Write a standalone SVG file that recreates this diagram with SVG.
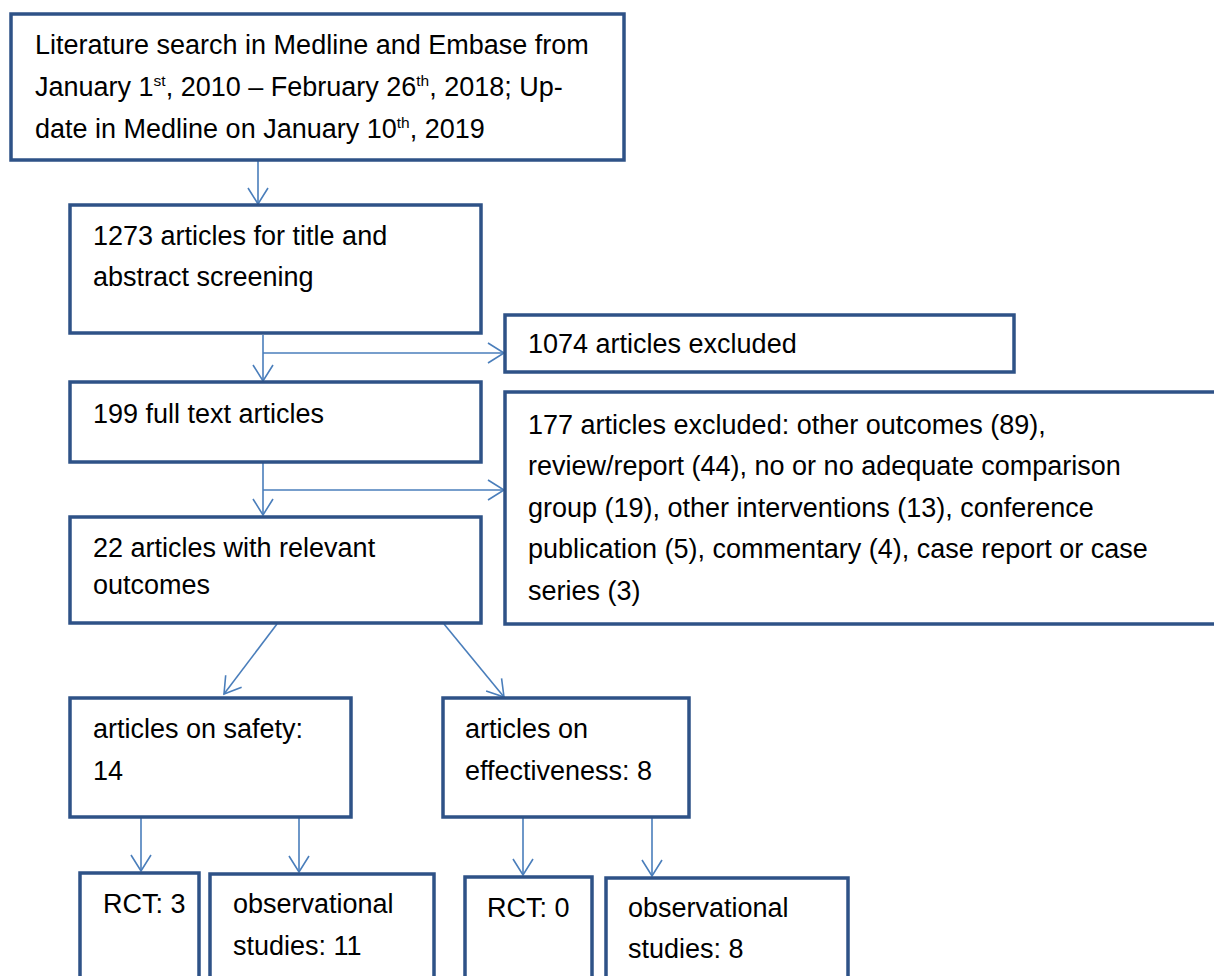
<svg xmlns="http://www.w3.org/2000/svg" width="1214" height="976" viewBox="0 0 1214 976">
<defs>
<marker id="arr" markerUnits="userSpaceOnUse" markerWidth="22" markerHeight="22" viewBox="0 0 22 22" refX="18" refY="11" orient="auto">
<path d="M2,1 L18,11 L2,21" fill="none" stroke="#4A7EBB" stroke-width="1.6"/>
</marker>
<style>
.box{fill:#fff;stroke:#2E5287;stroke-width:3.5}
.t{font-family:"Liberation Sans",Arial,sans-serif;font-size:27px;fill:#000}
.s{font-size:15.5px}
.c{fill:none;stroke:#4A7EBB;stroke-width:1.6}
</style>
</defs>
<rect width="1214" height="976" fill="#fff"/>
<g id="connectors">
<line class="c" x1="258" y1="160" x2="258" y2="204" marker-end="url(#arr)"/>
<line class="c" x1="263" y1="335" x2="263" y2="381" marker-end="url(#arr)"/>
<line class="c" x1="263" y1="353" x2="504" y2="353" marker-end="url(#arr)"/>
<line class="c" x1="263" y1="463" x2="263" y2="515" marker-end="url(#arr)"/>
<line class="c" x1="263" y1="490" x2="504" y2="490" marker-end="url(#arr)"/>
<line class="c" x1="277" y1="624" x2="224" y2="694" marker-end="url(#arr)"/>
<line class="c" x1="444" y1="624" x2="504" y2="697" marker-end="url(#arr)"/>
<line class="c" x1="141" y1="818" x2="141" y2="871" marker-end="url(#arr)"/>
<line class="c" x1="299" y1="818" x2="299" y2="872" marker-end="url(#arr)"/>
<line class="c" x1="523" y1="818" x2="523" y2="875" marker-end="url(#arr)"/>
<line class="c" x1="652" y1="818" x2="652" y2="876" marker-end="url(#arr)"/>
</g>
<g id="search">
<rect class="box" x="11" y="14" width="613" height="146"/>
<text class="t" x="35" y="54">Literature search in Medline and Embase from</text>
<text class="t" x="35" y="96">January 1<tspan class="s" dy="-10">st</tspan><tspan dy="10">, 2010 – February 26</tspan><tspan class="s" dy="-10">th</tspan><tspan dy="10">, 2018; Up-</tspan></text>
<text class="t" x="35" y="138">date in Medline on January 10<tspan class="s" dy="-10">th</tspan><tspan dy="10">, 2019</tspan></text>
</g>
<g id="screening">
<rect class="box" x="70" y="205" width="411" height="128"/>
<text class="t" x="93" y="245">1273 articles for title and</text>
<text class="t" x="93" y="286">abstract screening</text>
</g>
<g id="excluded1074">
<rect class="box" x="505" y="315" width="509" height="57"/>
<text class="t" x="528" y="353">1074 articles excluded</text>
</g>
<g id="fulltext">
<rect class="box" x="70" y="382" width="411" height="80"/>
<text class="t" x="93" y="423">199 full text articles</text>
</g>
<g id="excluded177">
<rect class="box" x="505" y="392" width="720" height="232"/>
<text class="t" x="528" y="434">177 articles excluded: other outcomes (89),</text>
<text class="t" x="528" y="475">review/report (44), no or no adequate comparison</text>
<text class="t" x="528" y="517">group (19), other interventions (13), conference</text>
<text class="t" x="528" y="558">publication (5), commentary (4), case report or case</text>
<text class="t" x="528" y="600">series (3)</text>
</g>
<g id="relevant">
<rect class="box" x="70" y="517" width="411" height="106"/>
<text class="t" x="93" y="557">22 articles with relevant</text>
<text class="t" x="93" y="594">outcomes</text>
</g>
<g id="safety">
<rect class="box" x="70" y="698" width="281" height="119"/>
<text class="t" x="93" y="738">articles on safety:</text>
<text class="t" x="93" y="780">14</text>
</g>
<g id="effectiveness">
<rect class="box" x="443" y="698" width="246" height="119"/>
<text class="t" x="465" y="738">articles on</text>
<text class="t" x="465" y="780">effectiveness: 8</text>
</g>
<g id="rct3">
<rect class="box" x="80" y="873" width="119" height="130"/>
<text class="t" x="103" y="913">RCT: 3</text>
</g>
<g id="obs11">
<rect class="box" x="210" y="874" width="224" height="130"/>
<text class="t" x="233" y="913">observational</text>
<text class="t" x="233" y="955">studies: 11</text>
</g>
<g id="rct0">
<rect class="box" x="465" y="877" width="127" height="130"/>
<text class="t" x="487" y="917">RCT: 0</text>
</g>
<g id="obs8">
<rect class="box" x="606" y="878" width="242" height="130"/>
<text class="t" x="628" y="917">observational</text>
<text class="t" x="628" y="958">studies: 8</text>
</g>
</svg>
